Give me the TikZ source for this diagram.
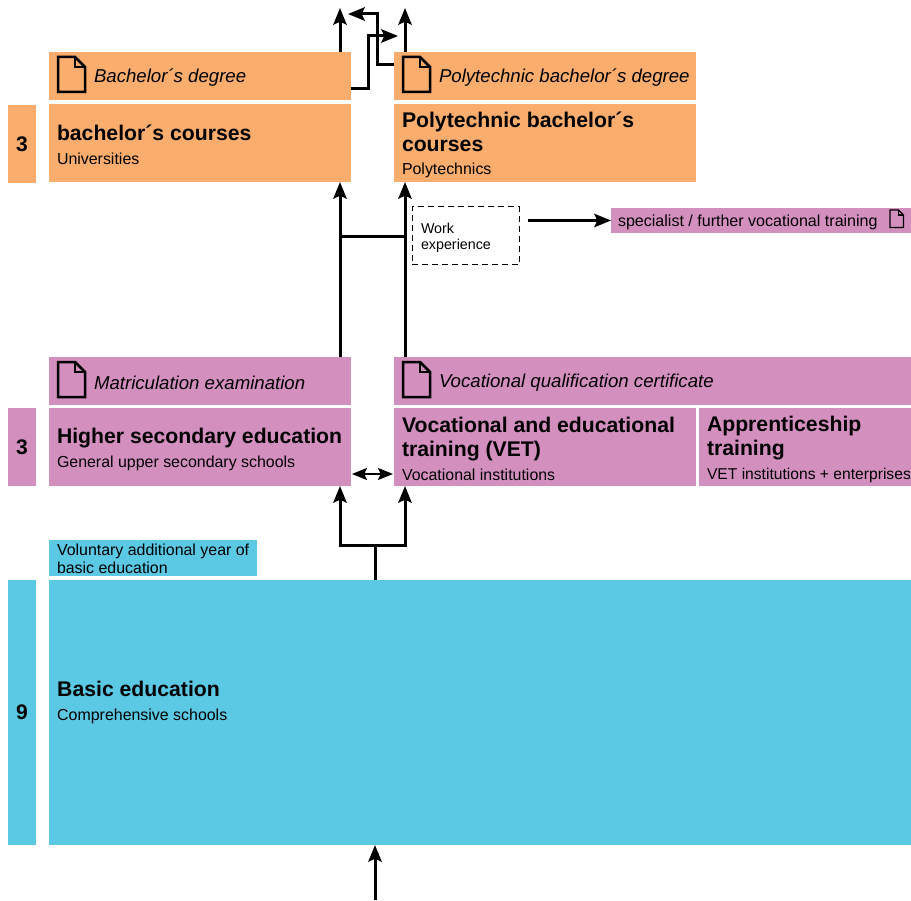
\documentclass[tikz,border=0pt]{standalone}
\usepackage{fontspec}
\setmainfont{Liberation Sans}
\usetikzlibrary{arrows.meta}
\usepackage{xcolor}
\definecolor{uniorange}{HTML}{FBAD6E}
\definecolor{secpink}{HTML}{D390BF}
\definecolor{basicblue}{HTML}{5BC8E4}

\begin{document}
\begin{tikzpicture}[x=0.03cm, y=-0.03cm]
        % ================= styles =================
        \tikzset{
            % plain coloured box: width and height in px of the reference
            cbox/.style 2 args={anchor=north west, inner sep=0pt, outer sep=0pt, align=flush left,
                text width=#1*0.03cm, minimum height=#2*0.03cm, execute at begin node={\leftskip=0.24cm\relax}},
            % box of a degree, text leaves room for the icon
            degbox/.style={cbox={#1}{48}, font=\fontsize{15.9}{19}\itshape, execute at begin node={\leftskip=1.35cm\relax\rule{0pt}{15pt}}},
            % year count on the left
            yearbox/.style={anchor=north west, inner sep=0pt, outer sep=0pt, minimum width=0.84cm, minimum height=#1*0.03cm, font=\fontsize{18}{20}\bfseries},
            flow/.style={line width=0.09cm, black, -{Stealth[length=0.5cm, width=0.4cm, inset=0.09cm]}},
            flowboth/.style={line width=0.05cm, black, {Stealth[length=0.45cm, width=0.36cm, inset=0.08cm]}-{Stealth[length=0.45cm, width=0.36cm, inset=0.08cm]}},
            link/.style={line width=0.09cm, black},
            workbox/.style={draw=black, line width=0.03cm, dash pattern=on 0.17cm off 0.13cm, anchor=north west, inner sep=0pt, outer sep=0pt, align=flush left,
                text width=107*0.03cm, minimum height=58*0.03cm, font=\fontsize{12.2}{13.6}\selectfont, execute at begin node={\leftskip=0.27cm\relax\rule{0pt}{12.3pt}}},
            docline/.style={line width=0.075cm},
            pics/docicon/.style={code={
                \draw[line join=miter] (0,0) -- (17,0) -- (27,10) -- (27,35) -- (0,35) -- cycle;
                \draw (17,0) -- (17,10) -- (27,10);
            }}
        }
        \newcommand{\maintitle}[1]{{\fontsize{18.1}{20.4}\bfseries\rule{0pt}{16.6pt}#1\par}}
        \newcommand{\subtitle}[1]{{\fontsize{13.6}{20.4}\selectfont #1\par}}

        % ================= 1. background of the page =================
        \useasboundingbox (0,0) rectangle (911,901);

        % ================= 2. universities and polytechnics =================
        \node[degbox=302, fill=uniorange] (bdegree) at (49,52) {Bachelor´s degree};
        \node[degbox=302, fill=uniorange] (pdegree) at (394,52) {Polytechnic bachelor´s degree};
        \node[cbox={302}{78}, fill=uniorange] (bcourses) at (49,104) {\maintitle{bachelor´s courses}\subtitle{Universities}};
        \node[cbox={302}{78}, fill=uniorange] (pcourses) at (394,104) {\maintitle{Polytechnic bachelor´s\\courses}\subtitle{Polytechnics}};
        \node[yearbox=78, fill=uniorange] (yearsthree) at (8,105) {3};

        % ================= 3. work experience =================
        \node[workbox] (work) at (412,207) {Work\\experience};
        \node[cbox={300}{25}, fill=secpink, font=\fontsize{13.7}{16}\selectfont, execute at begin node={\leftskip=0.21cm\relax\rule{0pt}{12.5pt}}] (special) at (611,208) {specialist / further vocational training};

        % ================= 4. upper secondary =================
        \node[degbox=302, fill=secpink] (matric) at (49,357) {Matriculation examination};
        \node[degbox=517, fill=secpink] (vocqual) at (394,357) {Vocational qualification certificate};
        \node[cbox={302}{78}, fill=secpink] (higher) at (49,408) {\maintitle{Higher secondary education}\subtitle{General upper secondary schools}};
        \node[cbox={302}{78}, fill=secpink] (vet) at (394,408) {\maintitle{Vocational and educational\\training (VET)}\subtitle{Vocational institutions}};
        \node[cbox={212}{78}, fill=secpink] (appr) at (699,408) {\maintitle{Apprenticeship\\training}{\fontsize{13.35}{20.4}\selectfont VET institutions + enterprises\par}};
        \node[yearbox=78, fill=secpink] (yearsmid) at (8,408) {3};

        % ================= 5. basic education =================
        \node[cbox={208}{36}, fill=basicblue, font=\fontsize{13.6}{15.7}\selectfont, execute at begin node={\rule{0pt}{11.7pt}}] (voluntary) at (49,540) {Voluntary additional year of\\basic education};
        \node[cbox={862}{265}, fill=basicblue] (basic) at (49,580) {};
        \node[anchor=west, inner sep=0pt, align=flush left, text width=400*0.03cm] (basictext) at (57,700) {\maintitle{Basic education}\subtitle{Comprehensive schools}};
        \node[yearbox=265, fill=basicblue] (yearsnine) at (8,580) {9};

        % ================= 6. icons =================
        \pic[docline] at (58,57) {docicon};
        \pic[docline] at (403,57) {docicon};
        \pic[docline] at (58,362) {docicon};
        \pic[docline] at (403,362) {docicon};
        \pic[scale=0.5, line width=0.035cm] at (890,210) {docicon};

        % ================= 7. arrows =================
        \coordinate (topl) at (340,8);
        \coordinate (topr) at (405,8);
        \coordinate (entry) at (375,900);

        % --- leaving the degrees ---
        \draw[flow] (bdegree.north -| topl) -- (topl);
        \draw[flow] (pdegree.north -| topr) -- (topr);
        \coordinate (crossa) at (351,89);
        \coordinate (crossb) at (394,65);
        \coordinate (crossaend) at (398,36);
        \coordinate (crossbend) at (348,14);
        \draw[flow] (crossa) -- (368,89) -- (368,36) -- (crossaend);
        \draw[flow] (crossb) -- (377,65) -- (377,14) -- (crossbend);

        % --- upper secondary to courses ---
        \draw[flow] (matric.north -| topl) -- (bcourses.south -| topl);
        \draw[flow] (vocqual.north -| topr) -- (pcourses.south -| topr);
        \coordinate (jleft) at (340,237);
        \coordinate (jright) at (405,237);
        \draw[link] (jleft) -- (jright);
        \draw[flow] (work.east |- special) ++(9,0) -- (special.west);

        % --- basic to upper secondary ---
        \draw[flowboth] (352,474) -- (393,474);
        \coordinate (forkl) at (340,545);
        \coordinate (forkr) at (405,545);
        \draw[link] (basic.north -| entry) -- (entry |- forkl);
        \draw[flow] (entry |- forkl) -- (forkl) -- (higher.south -| forkl);
        \draw[flow] (entry |- forkr) -- (forkr) -- (vet.south -| forkr);
        \draw[flow] (entry) -- (basic.south -| entry);

    \end{tikzpicture}
\end{document}
